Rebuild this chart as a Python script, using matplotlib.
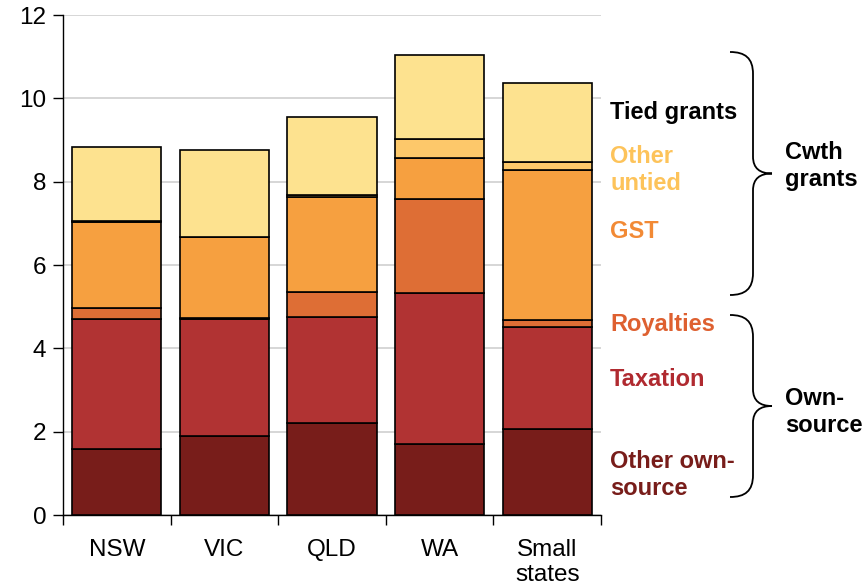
import matplotlib
matplotlib.use("Agg")
import matplotlib.pyplot as plt
from matplotlib.path import Path
from matplotlib.patches import PathPatch
import numpy as np

plt.rcParams['font.family'] = ['Liberation Sans', 'DejaVu Sans']

categories = ["NSW", "VIC", "QLD", "WA", "Small\nstates"]
other_own_source = [1.58, 1.90, 2.21, 1.70, 2.06]
taxation = [3.12, 2.80, 2.54, 3.63, 2.45]
royalties = [0.27, 0.02, 0.60, 2.25, 0.17]
gst = [2.06, 1.95, 2.28, 0.99, 3.60]
other_untied = [0.02, 0.01, 0.05, 0.45, 0.19]
tied_grants = [1.78, 2.07, 1.88, 2.02, 1.90]

series = [
    ("Other own-source", other_own_source, "#781D1A"),
    ("Taxation", taxation, "#B13333"),
    ("Royalties", royalties, "#DE6E35"),
    ("GST", gst, "#F6A040"),
    ("Other untied", other_untied, "#FDC86A"),
    ("Tied grants", tied_grants, "#FDE28F"),
]

W, H = 863, 585
fig = plt.figure(figsize=(W/100, H/100), dpi=100)
ax = fig.add_axes([63/W, 1-515/H, (601-63)/W, (515-15)/H])

x = np.arange(len(categories))
bottom = np.zeros(len(categories))
for name, vals, col in series:
    ax.bar(x, vals, bottom=bottom, width=0.83, color=col, edgecolor="black", linewidth=1.2, zorder=3)
    bottom += np.array(vals)

ax.set_xlim(-0.5, len(categories)-0.5)
ax.set_ylim(0, 12)
ax.set_yticks(np.arange(0, 13, 2))
ax.yaxis.grid(True, color="#d0d0d0", linewidth=1.2, zorder=0)
ax.set_axisbelow(True)
for s in ["top", "right"]:
    ax.spines[s].set_visible(False)
ax.spines["left"].set_linewidth(1.0)
ax.spines["bottom"].set_linewidth(1.0)
ax.tick_params(axis="y", direction="out", length=7, width=1, labelsize=17.5, pad=5)
ax.set_xticks(x)
ax.set_xticklabels(categories, fontsize=17.5, linespacing=1.2)
ax.tick_params(axis="x", length=0, pad=17)
ax.set_xticks(np.arange(-0.5, len(categories)), minor=True)
ax.tick_params(axis="x", which="minor", direction="out", length=7, width=1)

# overlay for labels and braces
ov = fig.add_axes([0, 0, 1, 1])
ov.set_xlim(0, W)
ov.set_ylim(H, 0)
ov.axis("off")

fs = 17
lbls = [
    ("Tied grants", 610, 113, "#000000"),
    ("Other\nuntied", 610, 170, "#FDC35A"),
    ("GST", 610, 232, "#F28A35"),
    ("Royalties", 610, 324, "#DE6030"),
    ("Taxation", 610, 379, "#B02A30"),
    ("Other own-\nsource", 610, 475, "#781D1A"),
    ("Cwth\ngrants", 785, 166, "#000000"),
    ("Own-\nsource", 785, 412, "#000000"),
]
for t, xx, yy, c in lbls:
    ov.text(xx, yy, t, color=c, fontsize=fs, fontweight="bold", ha="left", va="center", linespacing=1.2)

def brace(y0, y1, xe=730, xv=753, xt=772):
    ym = (y0 + y1) / 2
    verts = [
        (xe, y0), (xe+15, y0), (xv, y0+6), (xv, y0+22),
        (xv, ym-17),
        (xv, ym-5), (xv+7, ym), (xt, ym),
        (xv+7, ym), (xv, ym+5), (xv, ym+17),
        (xv, y1-22),
        (xv, y1-6), (xe+15, y1), (xe, y1),
    ]
    codes = [Path.MOVETO, Path.CURVE4, Path.CURVE4, Path.CURVE4,
             Path.LINETO,
             Path.CURVE4, Path.CURVE4, Path.CURVE4,
             Path.CURVE4, Path.CURVE4, Path.CURVE4,
             Path.LINETO,
             Path.CURVE4, Path.CURVE4, Path.CURVE4]
    ov.add_patch(PathPatch(Path(verts, codes), facecolor="none", edgecolor="black", linewidth=1.3))

brace(52, 295)
brace(315, 497)

fig.savefig("out.png", dpi=100)
